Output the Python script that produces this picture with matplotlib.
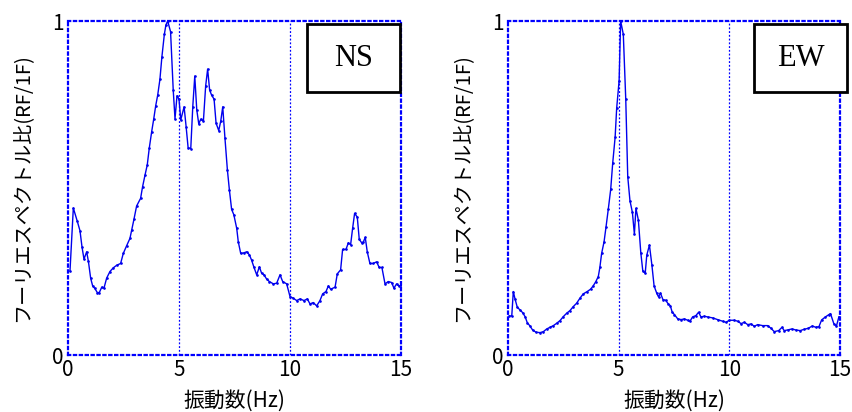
import numpy as np
import matplotlib.pyplot as plt
from matplotlib.patches import Rectangle

plt.rcParams['font.family'] = ['Noto Sans CJK JP', 'DejaVu Sans']

# NS 方向 (周波数 Hz, スペクトル比)
ns_freq = [0.09, 0.24, 0.42, 0.54, 0.63, 0.72, 0.84, 0.92, 1.02, 1.11, 1.2, 1.32, 1.41,
           1.52, 1.62, 1.74, 1.89, 2.04, 2.2, 2.37, 2.49, 2.64, 2.79, 2.87, 2.97, 3.09,
           3.27, 3.36, 3.47, 3.57, 3.66, 3.77, 3.86, 3.95, 4.04, 4.14, 4.23, 4.34, 4.41,
           4.49, 4.62, 4.74, 4.82, 4.91, 5.0, 5.08, 5.23, 5.32, 5.41, 5.53, 5.62, 5.71,
           5.8, 5.89, 5.98, 6.1, 6.2, 6.29, 6.38, 6.47, 6.58, 6.67, 6.79, 6.88, 6.97,
           7.07, 7.18, 7.27, 7.37, 7.47, 7.6, 7.67, 7.78, 7.93, 8.05, 8.17, 8.27, 8.38,
           8.5, 8.62, 8.72, 8.83, 8.95, 9.07, 9.25, 9.4, 9.55, 9.67, 9.85, 10.0, 10.15,
           10.3, 10.45, 10.63, 10.78, 10.9, 11.05, 11.2, 11.35, 11.47, 11.62, 11.73,
           11.83, 12.03, 12.13, 12.28, 12.37, 12.52, 12.63, 12.73, 12.82, 12.91, 13.03,
           13.12, 13.23, 13.3, 13.39, 13.48, 13.6, 13.75, 13.9, 14.02, 14.14, 14.28,
           14.43, 14.58, 14.68, 14.8, 14.92, 15.0]
ns_ratio = [0.252, 0.44, 0.40, 0.372, 0.324, 0.287, 0.309, 0.28, 0.23, 0.207, 0.2, 0.187,
            0.187, 0.203, 0.2, 0.23, 0.25, 0.261, 0.269, 0.274, 0.304, 0.327, 0.349,
            0.374, 0.406, 0.446, 0.469, 0.504, 0.539, 0.569, 0.619, 0.669, 0.706, 0.746,
            0.778, 0.825, 0.893, 0.96, 0.988, 1.0, 0.968, 0.793, 0.707, 0.776, 0.766,
            0.704, 0.743, 0.684, 0.621, 0.618, 0.743, 0.835, 0.734, 0.692, 0.706, 0.701,
            0.805, 0.856, 0.793, 0.778, 0.766, 0.694, 0.672, 0.70, 0.743, 0.649, 0.554,
            0.494, 0.436, 0.42, 0.379, 0.339, 0.304, 0.306, 0.309, 0.3, 0.284, 0.262,
            0.24, 0.264, 0.245, 0.24, 0.227, 0.22, 0.213, 0.215, 0.24, 0.22, 0.213,
            0.175, 0.17, 0.163, 0.168, 0.163, 0.168, 0.153, 0.157, 0.147, 0.163, 0.183,
            0.19, 0.207, 0.197, 0.203, 0.243, 0.255, 0.316, 0.316, 0.336, 0.33, 0.379,
            0.424, 0.413, 0.346, 0.336, 0.338, 0.352, 0.309, 0.274, 0.274, 0.279, 0.262,
            0.262, 0.213, 0.22, 0.217, 0.2, 0.213, 0.206, 0.21]

# EW 方向
ew_freq = [0.06, 0.17, 0.24, 0.32, 0.42, 0.54, 0.66, 0.77, 0.87, 0.99, 1.11, 1.27, 1.45,
           1.6, 1.75, 1.9, 2.05, 2.2, 2.35, 2.5, 2.65, 2.8, 2.95, 3.1, 3.25, 3.4, 3.58,
           3.73, 3.85, 3.97, 4.08, 4.15, 4.23, 4.34, 4.43, 4.53, 4.64, 4.73, 4.84, 4.91,
           5.02, 5.09, 5.21, 5.32, 5.41, 5.51, 5.62, 5.71, 5.78, 5.89, 6.0, 6.09, 6.2,
           6.27, 6.39, 6.5, 6.6, 6.72, 6.8, 6.89, 7.0, 7.12, 7.23, 7.33, 7.42, 7.52,
           7.67, 7.82, 7.97, 8.12, 8.22, 8.34, 8.49, 8.61, 8.72, 8.87, 9.02, 9.25, 9.47,
           9.7, 9.85, 10.0, 10.23, 10.38, 10.53, 10.68, 10.83, 10.98, 11.13, 11.28, 11.5,
           11.73, 11.88, 12.03, 12.23, 12.38, 12.48, 12.63, 12.83, 13.0, 13.2, 13.38,
           13.57, 13.75, 13.9, 14.05, 14.17, 14.32, 14.5, 14.57, 14.72, 14.84, 14.95]
ew_ratio = [0.117, 0.117, 0.19, 0.167, 0.143, 0.135, 0.127, 0.115, 0.097, 0.087, 0.075,
            0.068, 0.067, 0.07, 0.078, 0.083, 0.088, 0.095, 0.103, 0.115, 0.125, 0.133,
            0.145, 0.155, 0.17, 0.183, 0.19, 0.197, 0.207, 0.22, 0.235, 0.262, 0.304,
            0.339, 0.384, 0.436, 0.496, 0.574, 0.652, 0.739, 0.821, 1.0, 0.96, 0.766,
            0.534, 0.462, 0.427, 0.362, 0.439, 0.404, 0.306, 0.252, 0.245, 0.299, 0.329,
            0.27, 0.207, 0.185, 0.174, 0.185, 0.166, 0.164, 0.154, 0.148, 0.128, 0.121,
            0.108, 0.106, 0.108, 0.104, 0.101, 0.114, 0.118, 0.128, 0.114, 0.116, 0.114,
            0.111, 0.106, 0.101, 0.098, 0.104, 0.104, 0.101, 0.094, 0.098, 0.091, 0.093,
            0.086, 0.091, 0.088, 0.088, 0.08, 0.07, 0.073, 0.083, 0.073, 0.075, 0.078,
            0.075, 0.073, 0.077, 0.08, 0.087, 0.083, 0.085, 0.105, 0.113, 0.121, 0.124,
            0.094, 0.087, 0.114]

x_ticks = [0, 5, 10, 15]
y_ticks = [0, 1]
xlabel = "振動数(Hz)"
ylabel = "フーリエスペクトル比(RF/1F)"

W, H = 853, 412
fig = plt.figure(figsize=(W / 100, H / 100), dpi=100)


def panel(left_px, right_px, freq, ratio, name, box):
    ax = fig.add_axes([left_px / W, (H - 355) / H, (right_px - left_px) / W, 334 / H])
    ax.plot(freq, ratio, color="#0000ee", lw=1.0, marker=".", markersize=1.8)
    ax.set_xlim(0, 15)
    ax.set_ylim(0, 1)
    ax.set_xticks(x_ticks)
    ax.set_yticks(y_ticks)
    ax.tick_params(length=0, labelsize=15, pad=3)
    for v in [5, 10]:
        ax.axvline(v, color="#0000ff", lw=0.9, ls=(0, (1.5, 1.5)))
    for s in ax.spines.values():
        s.set_color("blue")
        s.set_linestyle(":")
        s.set_linewidth(1.6)
    ax.set_xlabel(xlabel, fontsize=15, labelpad=6)
    ax.set_ylabel(ylabel, fontsize=14.5, labelpad=14)
    # 方向ラベルの枠
    bx0, by0, bx1, by1 = box
    fig.add_artist(Rectangle((bx0 / W, 1 - by1 / H), (bx1 - bx0) / W, (by1 - by0) / H,
                             transform=fig.transFigure, fill=True, facecolor="white",
                             edgecolor="black", lw=2, zorder=5))
    fig.text((bx0 + bx1) / 2 / W, 1 - (by0 + by1) / 2 / H, name,
             family="Liberation Serif", fontsize=22, ha="center", va="center", zorder=6)
    return ax


panel(68, 401, ns_freq, ns_ratio, "NS", (307, 24, 400, 92))
panel(508, 840, ew_freq, ew_ratio, "EW", (754, 24, 847, 92))

fig.savefig("out.png", dpi=100)
